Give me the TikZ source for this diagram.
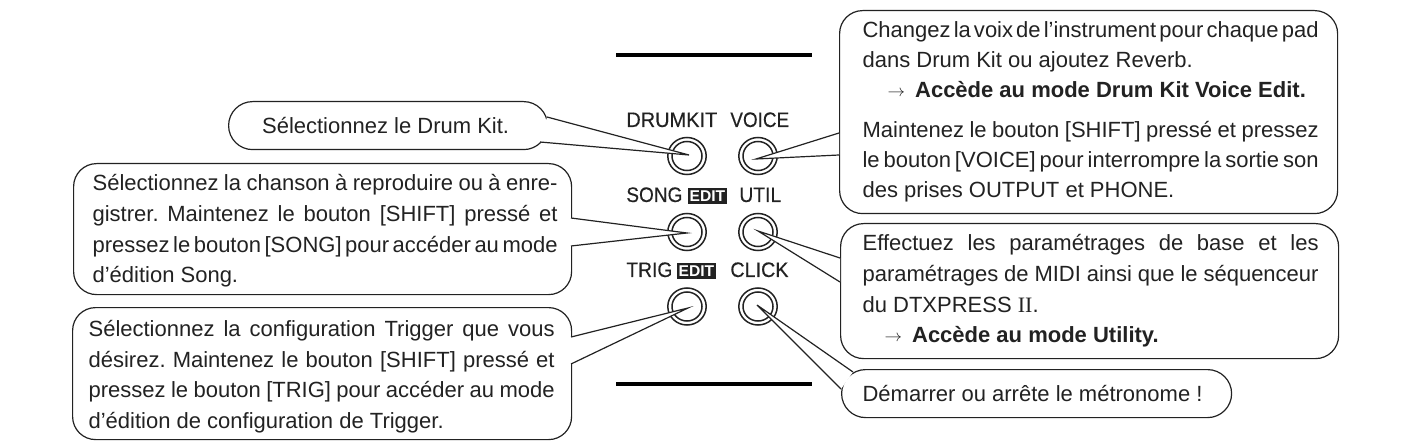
\documentclass[tikz,border=0pt]{standalone}
\usepackage{fontspec}
\usetikzlibrary{shapes.geometric}
\setmainfont{Liberation Sans}
\newfontfamily\serifII{Liberation Serif}
\newfontfamily\lblfont[FakeBold=0.35]{Liberation Sans}
\definecolor{ink}{HTML}{222222}
\frenchspacing
\newcommand{\jl}[2]{\leavevmode\hbox to #1{\spaceskip=.278em plus 1em minus .2em\relax #2}}
\newcommand{\bt}[4]{\makebox[#1][l]{\hspace*{#2}\parbox{#3}{#4}}}
\newcommand{\arr}{\hspace*{11pt}\raisebox{0.5pt}{\scalebox{0.8}[0.75]{$\rightarrow$}}\hspace{5pt}}
\tikzset{
  box/.style={draw=ink,line width=0.6pt,fill=white,rounded corners=11.5pt,inner sep=0pt,align=left,text=ink,font=\fontsize{11}{15.35}\selectfont,anchor=north west},
  pill/.style={box,rounded corners=12pt},
  btnout/.style={ellipse,draw=ink,line width=0.75pt,minimum width=19.2pt,minimum height=18.5pt,inner sep=0pt},
  btnin/.style={ellipse,draw=ink,line width=0.75pt,minimum width=15pt,minimum height=14.5pt,inner sep=0pt},
  lbl/.style={inner sep=0pt,anchor=base west,text=ink,font=\lblfont\fontsize{10.5}{12}\selectfont},
  wedge/.style={draw=ink,line width=0.6pt,fill=white,line join=miter},
  rule/.style={line width=1.6pt,draw=black},
  badge/.style={fill=ink,draw=ink,line width=0.4pt,inner sep=0pt,minimum width=19pt,minimum height=7.4pt,anchor=north west,text=white,font=\bfseries\fontsize{7.8}{7.8}\selectfont}
}
\begin{document}
\begin{tikzpicture}[x=0.5pt,y=-0.5pt]
\useasboundingbox (0,0) rectangle (1412,443);
% rules
\coordinate (r1a) at (616,55); \coordinate (r1b) at (812,55);
\coordinate (r2a) at (616,384); \coordinate (r2b) at (812,384);
\draw[rule] (r1a)--(r1b);
\draw[rule] (r2a)--(r2b);
% labels
\node[lbl,xscale=.95] (ldrum) at (626,127) {DRUMKIT};
\node[lbl,xscale=.90] (lvoice) at (730,127) {VOICE};
\node[lbl,xscale=.906] (lsong) at (626,202) {SONG};
\node[lbl,xscale=.92] (lutil) at (739,202) {UTIL};
\node[lbl,xscale=.917] (ltrig) at (626,277) {TRIG};
\node[lbl,xscale=.94] (lclick) at (730,277) {CLICK};
\node[badge] (bsong) at (688,188) {EDIT};
\node[badge] (btrig) at (677,263) {EDIT};
% buttons
\foreach \n/\x/\y in {drum/687/156,voice/758/156,song/687/232,util/758/232,trig/687/306.5,click/758/306.5}{
  \node[btnout] (\n) at (\x,\y) {};
  \node[btnin] (\n i) at (\x,\y) {};
}
% boxes
\node[pill,minimum width=159.5pt,minimum height=24pt,align=center] (tdrum) at (228,101) {\hspace*{-2.5pt}Sélectionnez le Drum Kit.};
\node[box,minimum height=65.5pt] (tsong) at (73,163) {\bt{249pt}{9.5pt}{232.5pt}{\vspace*{2pt}\jl{232.5pt}{Sélectionnez la chanson à reproduire ou à enre-}\\\jl{232.5pt}{gistrer. Maintenez le bouton [SHIFT] pressé et}\\\jl{232.5pt}{pressez le bouton [SONG] pour accéder au mode}\\d’édition Song.}};
\node[box,minimum height=66pt] (ttrig) at (72,307) {\bt{249.5pt}{8pt}{233pt}{\vspace*{3pt}\jl{233pt}{Sélectionnez la configuration Trigger que vous}\\\jl{233pt}{désirez. Maintenez le bouton [SHIFT] pressé et}\\\jl{233pt}{pressez le bouton [TRIG] pour accéder au mode}\\d’édition de configuration de Trigger.}};
\node[box,minimum height=101.5pt] (tvoice) at (839,10) {\bt{249pt}{11.5pt}{228pt}{\baselineskip=15pt\jl{228pt}{Changez la voix de l’instrument pour chaque pad}\\dans Drum Kit ou ajoutez Reverb.\\\hspace*{1.5pt}\arr\textbf{Accède au mode Drum Kit Voice Edit.}\\[5pt]\jl{228pt}{Maintenez le bouton [SHIFT] pressé et pressez}\\\jl{228pt}{le bouton [VOICE] pour interrompre la sortie son}\\des prises OUTPUT et PHONE.}};
\node[box,minimum height=67.5pt] (tutil) at (840,223) {\bt{249pt}{11pt}{228pt}{\jl{228pt}{Effectuez les paramétrages de base et les}\\\jl{228pt}{paramétrages de MIDI ainsi que le séquenceur}\\du DTXPRESS {\serifII II}.\\\arr\textbf{Accède au mode Utility.}}};
\node[pill,minimum height=24pt] (tclick) at (841,369) {\bt{195pt}{10.5pt}{180pt}{Démarrer ou arrête le métronome !}};
% connector ends
\coordinate (d1) at (547,117); \coordinate (d2) at (540,142); \coordinate (dt) at (689,155);
\coordinate (s1) at (571,218); \coordinate (s2) at (571,246); \coordinate (st) at (687,233);
\coordinate (t1) at (571,337); \coordinate (t2) at (571,364); \coordinate (tt) at (688,308);
\coordinate (v1) at (839,133); \coordinate (v2) at (839,155); \coordinate (vt) at (756,159);
\coordinate (u1) at (840,258); \coordinate (u2) at (840,282); \coordinate (ut) at (758,231);
\coordinate (c1) at (853,372); \coordinate (c2) at (841,389); \coordinate (ct) at (757,305);
\draw[wedge] (d1)--(dt)--(d2);
\draw[wedge] (s1)--(st)--(s2);
\draw[wedge] (t1)--(tt)--(t2);
\draw[wedge] (v1)--(vt)--(v2);
\draw[wedge] (u1)--(ut)--(u2);
\draw[wedge] (c1)--(ct)--(c2);
\end{tikzpicture}
\end{document}
